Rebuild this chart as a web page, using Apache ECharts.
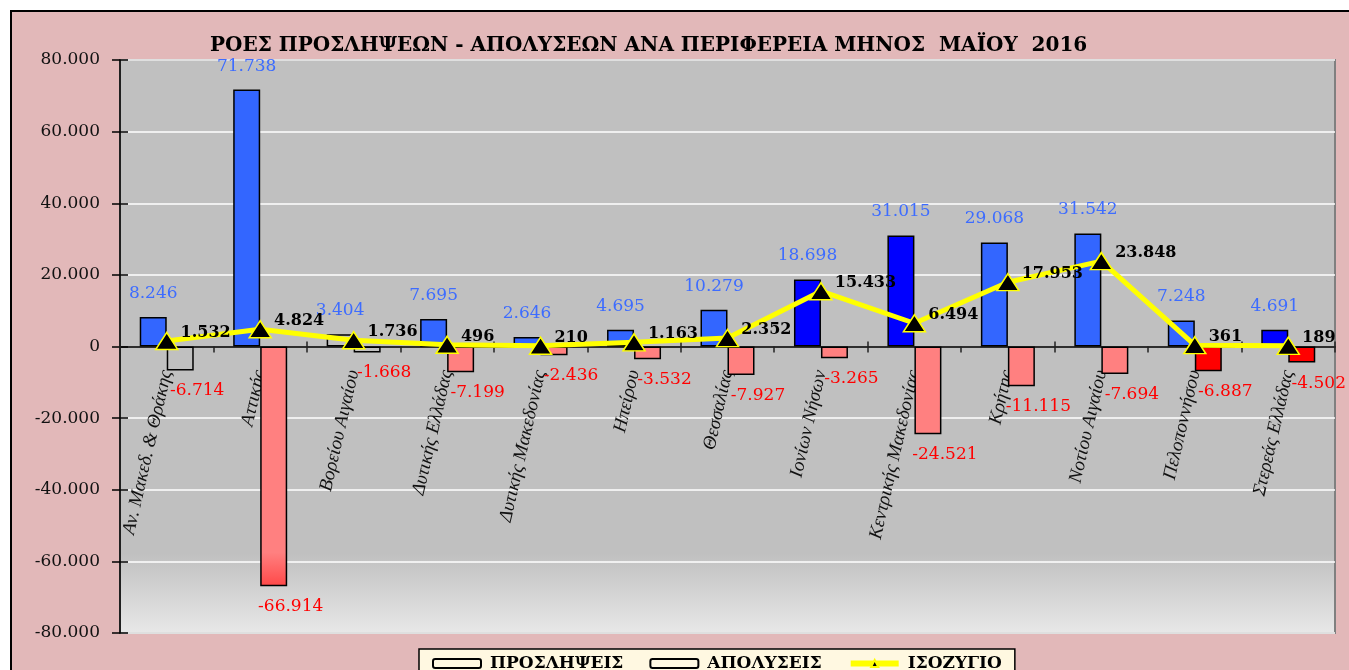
<!DOCTYPE html>
<html>
<head>
<meta charset="utf-8">
<script src="https://cdn.jsdelivr.net/npm/echarts@6/dist/echarts.min.js"></script>
<style>
    html, body { margin: 0; padding: 0; background: #fff; }
    #frame { position: absolute; left: 10px; top: 10px; width: 1345px; height: 670px; background: #e2b8b9; border-left: 2px solid #000; border-top: 2px solid #000; }
    #chart { position: absolute; left: 0; top: 0; width: 1349px; height: 670px; }
</style>
</head>
<body>
<div id="frame"></div>
<div id="chart"></div>
<script>
var TITLE = "ΡΟΕΣ ΠΡΟΣΛΗΨΕΩΝ - ΑΠΟΛΥΣΕΩΝ ΑΝΑ ΠΕΡΙΦΕΡΕΙΑ ΜΗΝΟΣ  ΜΑΪΟΥ  2016";

// περιφέρειες
var regions = ["Αν. Μακεδ. & Θράκης", "Αττικής", "Βορείου Αιγαίου", "Δυτικής Ελλάδας", "Δυτικής Μακεδονίας",
    "Ηπείρου", "Θεσσαλίας", "Ιονίων Νήσων", "Κεντρικής Μακεδονίας", "Κρήτης", "Νοτίου Αιγαίου",
    "Πελοποννήσου", "Στερεάς Ελλάδας"];

var hires = [8246, 71738, 3404, 7695, 2646, 4695, 10279, 18698, 31015, 29068, 31542, 7248, 4691]; // προσλήψεις
var fires = [-6714, -66914, -1668, -7199, -2436, -3532, -7927, -3265, -24521, -11115, -7694, -6887, -4502]; // απολύσεις
var balance = [1532, 4824, 1736, 496, 210, 1163, 2352, 15433, 6494, 17953, 23848, 361, 189]; // ισοζύγιο

var yTicks = [-80000, -60000, -40000, -20000, 0, 20000, 40000, 60000, 80000];
var legendNames = ["ΠΡΟΣΛΗΨΕΙΣ", "ΑΠΟΛΥΣΕΙΣ", "ΙΣΟΖΥΓΙΟ"];

// ελληνική μορφή αριθμών: 71.738
function fmt(v) {
    var s = String(Math.abs(v)).replace(/\B(?=(\d{3})+(?!\d))/g, ".");
    return (v < 0 ? "-" : "") + s;
}

var SERIF = "DejaVu Serif";

var GRID_TOP = 60, GRID_BOTTOM = 37, CHART_H = 670;
// οι ετικέτες του άξονα Χ μένουν στο κάτω άκρο, τις ανεβάζουμε στο μηδέν
var zeroShift = (CHART_H - GRID_BOTTOM - GRID_TOP) / 2;

// χρώματα ανά περιφέρεια (όπως στο πρωτότυπο του Excel)
function hireColor(name) {
    if (name == "Βορείου Αιγαίου") return "rgba(0,0,0,0)";
    if (name == "Ιονίων Νήσων" || name == "Κεντρικής Μακεδονίας" || name == "Στερεάς Ελλάδας") return "#0000ff";
    return "#3366ff";
}

function fireColor(name) {
    if (name == "Αν. Μακεδ. & Θράκης" || name == "Βορείου Αιγαίου") return "rgba(0,0,0,0)";
    if (name == "Πελοποννήσου" || name == "Στερεάς Ελλάδας") return "#ff0000";
    if (name == "Αττικής") {
        return new echarts.graphic.LinearGradient(0, 0, 0, 1, [
            { offset: 0, color: "#ff8080" },
            { offset: 0.86, color: "#ff8080" },
            { offset: 1, color: "#ff4848" }
        ]);
    }
    return "#ff8080";
}

var chart = echarts.init(document.getElementById("chart"));

var hireData = hires.map(function(v, i) {
    return { value: v, itemStyle: { color: hireColor(regions[i]) } };
});
var fireData = fires.map(function(v, i) {
    return { value: v, itemStyle: { color: fireColor(regions[i]) } };
});

var option = {
    backgroundColor: "transparent",
    animation: false,
    title: {
        text: TITLE,
        left: 205,
        top: 31,
        textStyle: { fontFamily: SERIF, fontWeight: "bold", fontSize: 20, color: "#000" }
    },
    legend: {
        data: [
            { name: legendNames[0] },
            { name: legendNames[1] },
            { name: legendNames[2], lineStyle: { color: "#ffff00", width: 6 } }
        ],
        left: 419,
        top: 649,
        padding: [6, 13, 6, 13],
        itemGap: 26,
        itemWidth: 48,
        itemHeight: 9,
        backgroundColor: "#fff8e1",
        borderColor: "#000",
        borderWidth: 1.5,
        borderRadius: 0,
        textStyle: { fontFamily: SERIF, fontWeight: "bold", fontSize: 17, color: "#000", padding: [0, 0, 0, 4] }
    },
    grid: {
        left: 120,
        right: 14,
        top: GRID_TOP,
        bottom: GRID_BOTTOM,
        outerBoundsMode: "none",
        containLabel: false,
        show: true,
        borderColor: "#808080",
        borderWidth: 2,
        backgroundColor: new echarts.graphic.LinearGradient(0, 0, 0, 1, [
            { offset: 0, color: "#c0c0c0" },
            { offset: 0.86, color: "#c0c0c0" },
            { offset: 1, color: "#e8e8e8" }
        ])
    },
    xAxis: [{
        type: "category",
        data: regions,
        axisLine: { onZero: true, lineStyle: { color: "#222", width: 1.5 } },
        axisTick: { show: true, length: 6, lineStyle: { color: "#222", width: 1.5 } },
        axisLabel: {
            rotate: 77,
            margin: 24 - zeroShift,
            interval: 0,
            fontFamily: "Liberation Serif",
            fontStyle: "italic",
            fontSize: 19,
            color: "#111"
        },
        splitLine: { show: false }
    }, {
        // μόνο για τις εσωτερικές υποδιαιρέσεις που διασχίζουν τον άξονα
        type: "category",
        data: regions,
        position: "bottom",
        axisLine: { onZero: true, onZeroAxisIndex: 0, lineStyle: { color: "#222", width: 1.5 } },
        axisTick: { show: true, inside: true, length: 5, lineStyle: { color: "#222", width: 1.5 } },
        axisLabel: { show: false },
        splitLine: { show: false }
    }],
    yAxis: [{
        type: "value",
        min: yTicks[0],
        max: yTicks[yTicks.length - 1],
        interval: 20000,
        axisLine: { show: true, lineStyle: { color: "#000", width: 1.5 } },
        axisTick: { show: true, length: 8, lineStyle: { color: "#000", width: 1.5 } },
        axisLabel: {
            margin: 20,
            fontFamily: SERIF,
            fontSize: 17,
            color: "#111",
            formatter: function(v) { return fmt(v); }
        },
        splitLine: { show: true, lineStyle: { color: "#ffffff", width: 1.5 } }
    }, {
        type: "value",
        position: "left",
        min: yTicks[0],
        max: yTicks[yTicks.length - 1],
        interval: 20000,
        axisLine: { show: false },
        axisTick: { show: true, inside: true, length: 8, lineStyle: { color: "#000", width: 1.5 } },
        axisLabel: { show: false },
        splitLine: { show: false }
    }],
    series: [{
        name: legendNames[0],
        type: "bar",
        data: hireData,
        barWidth: 27,
        barGap: "0%",
        itemStyle: { color: "rgba(0,0,0,0)", borderColor: "#000", borderWidth: 1.5 },
        label: {
            show: true,
            position: "top",
            distance: 15,
            fontFamily: SERIF,
            fontSize: 17,
            color: "#3d6cff",
            formatter: function(p) { return fmt(p.value); }
        }
    }, {
        name: legendNames[1],
        type: "bar",
        data: fireData,
        barWidth: 27,
        barGap: "0%",
        itemStyle: { color: "rgba(0,0,0,0)", borderColor: "#000", borderWidth: 1.5 },
        label: {
            show: true,
            position: "bottom",
            distance: 12,
            offset: [17, 0],
            fontFamily: SERIF,
            fontSize: 17,
            color: "#ff0000",
            formatter: function(p) { return fmt(p.value); }
        }
    }, {
        name: legendNames[2],
        type: "line",
        data: balance,
        symbol: "triangle",
        symbolSize: [22, 17],
        lineStyle: { color: "#ffff00", width: 5 },
        itemStyle: { color: "#000", borderColor: "#ffff00", borderWidth: 1.5 },
        z: 5,
        label: {
            show: true,
            position: "right",
            distance: 2,
            offset: [0, -8],
            fontFamily: SERIF,
            fontWeight: "bold",
            fontSize: 16,
            color: "#000",
            formatter: function(p) { return fmt(p.value); }
        }
    }]
};

chart.setOption(option);

window.addEventListener("resize", function() {
    chart.resize();
});
</script>
</body>
</html>
